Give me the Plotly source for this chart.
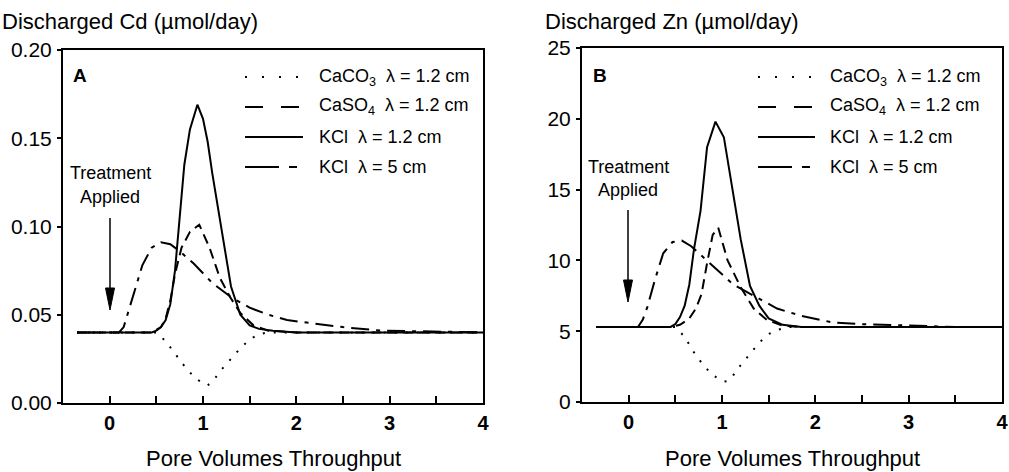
import plotly.graph_objects as go

W, H = 1009, 472
FONT = "Liberation Sans, Arial, sans-serif"


def fx(p):
    return p / W


def fy(p):
    return 1 - p / H


# ---------------- Panel A : Cd ----------------
cd_caco3_x = [-0.35, 0.5, 0.6, 0.7, 0.8, 0.9, 1.0, 1.05, 1.1, 1.2, 1.3, 1.4, 1.5, 1.6, 1.7, 4.0]
cd_caco3_y = [0.040, 0.040, 0.035, 0.028, 0.021, 0.015, 0.011, 0.010, 0.012, 0.019, 0.025, 0.031, 0.036, 0.039, 0.040, 0.040]

cd_caso4_x = [-0.35, 0.45, 0.55, 0.6, 0.65, 0.7, 0.77, 0.86, 0.96, 1.07, 1.18, 1.29, 1.4, 1.54, 1.7, 2.0, 4.0]
cd_caso4_y = [0.040, 0.040, 0.043, 0.048, 0.058, 0.073, 0.088, 0.097, 0.101, 0.088, 0.071, 0.060, 0.051, 0.044, 0.041, 0.040, 0.040]

cd_kcl12_x = [-0.35, 0.45, 0.5, 0.55, 0.6, 0.65, 0.7, 0.75, 0.8, 0.86, 0.94, 1.0, 1.05, 1.1, 1.2, 1.3, 1.4, 1.5, 1.6, 1.75, 2.0, 4.0]
cd_kcl12_y = [0.040, 0.040, 0.041, 0.043, 0.047, 0.056, 0.075, 0.105, 0.135, 0.155, 0.169, 0.161, 0.148, 0.130, 0.098, 0.066, 0.050, 0.044, 0.042, 0.041, 0.040, 0.040]

cd_kcl5_x = [-0.35, 0.1, 0.15, 0.25, 0.35, 0.45, 0.55, 0.65, 0.75, 0.9, 1.1, 1.3, 1.5, 1.7, 1.9, 2.2, 2.5, 2.9, 3.5, 4.0]
cd_kcl5_y = [0.040, 0.040, 0.043, 0.060, 0.078, 0.088, 0.091, 0.090, 0.086, 0.079, 0.068, 0.060, 0.054, 0.050, 0.047, 0.045, 0.043, 0.041, 0.0405, 0.040]

# ---------------- Panel B : Zn ----------------
zn_caco3_x = [-0.35, 0.5, 0.6, 0.7, 0.8, 0.9, 1.0, 1.05, 1.1, 1.2, 1.3, 1.4, 1.5, 1.6, 1.7, 4.0]
zn_caco3_y = [5.3, 5.3, 4.6, 3.5, 2.6, 1.9, 1.5, 1.45, 1.7, 2.6, 3.4, 4.2, 4.8, 5.1, 5.3, 5.3]

zn_caso4_x = [-0.35, 0.45, 0.55, 0.65, 0.72, 0.78, 0.84, 0.9, 0.96, 1.06, 1.2, 1.34, 1.48, 1.65, 1.85, 4.0]
zn_caso4_y = [5.3, 5.3, 5.45, 5.9, 6.6, 7.6, 9.8, 11.8, 12.3, 10.0, 8.1, 6.6, 5.8, 5.4, 5.3, 5.3]

zn_kcl12_x = [-0.35, 0.45, 0.5, 0.55, 0.6, 0.65, 0.7, 0.77, 0.84, 0.93, 1.02, 1.1, 1.2, 1.3, 1.4, 1.5, 1.65, 1.85, 4.0]
zn_kcl12_y = [5.3, 5.3, 5.5, 6.0, 6.8, 8.3, 10.8, 13.5, 18.0, 19.8, 18.7, 15.5, 11.5, 8.2, 6.8, 5.9, 5.45, 5.3, 5.3]

zn_kcl5_x = [-0.35, 0.1, 0.15, 0.2, 0.28, 0.37, 0.47, 0.57, 0.67, 0.77, 0.91, 1.12, 1.34, 1.59, 1.84, 2.2, 2.5, 2.9, 3.5, 4.0]
zn_kcl5_y = [5.3, 5.3, 5.8, 6.7, 8.6, 10.5, 11.3, 11.4, 11.0, 10.4, 9.5, 8.3, 7.5, 6.6, 6.1, 5.6, 5.5, 5.4, 5.3, 5.3]

legend_labels = [
    "CaCO<sub>3</sub>  λ = 1.2 cm",
    "CaSO<sub>4</sub>  λ = 1.2 cm",
    "KCl  λ = 1.2 cm",
    "KCl  λ = 5 cm",
]

DOT = "2px,9px"
DASH = "10px,6px"
SOLID = "solid"
DASHDOT = "18px,7px,4px,7px"
curve_dashes = [DOT, DASH, SOLID, DASHDOT]
legend_dashes = ["2px,15px", "18px,18px", "solid", "34px,10px,8px,20px"]

fig = go.Figure()

panels = [
    ("x", "y", [(cd_caco3_x, cd_caco3_y), (cd_caso4_x, cd_caso4_y), (cd_kcl12_x, cd_kcl12_y), (cd_kcl5_x, cd_kcl5_y)]),
    ("x2", "y2", [(zn_caco3_x, zn_caco3_y), (zn_caso4_x, zn_caso4_y), (zn_kcl12_x, zn_kcl12_y), (zn_kcl5_x, zn_kcl5_y)]),
]
for xa, ya, series in panels:
    for (xs, ys), dash, name in zip(series, curve_dashes, legend_labels):
        fig.add_trace(go.Scatter(x=xs, y=ys, mode="lines", xaxis=xa, yaxis=ya, name=name,
                                 line=dict(color="black", width=2, dash=dash), showlegend=False,
                                 hoverinfo="skip"))

# panel pixel geometry
A = dict(l=63, r=483, t=50, b=403, title_x=0, lx0=245, lx1=303, tx=317, label="A", lab_x=80,
         arrow_x=110, t1=173, t2=197, tail=218, head=310)
B = dict(l=582, r=1002, t=48, b=402, title_x=543, lx0=758, lx1=815, tx=828, label="B", lab_x=600,
         arrow_x=628, t1=167, t2=190, tail=210, head=302)


def xaxis_cfg(p, anchor):
    return dict(domain=[fx(p["l"]), fx(p["r"])], range=[-0.5, 4], anchor=anchor,
                tickmode="linear", tick0=0, dtick=1, ticks="inside", ticklen=7, tickwidth=1.5,
                tickcolor="black",
                minor=dict(tick0=0, dtick=0.5, ticks="inside", ticklen=7, tickwidth=1.5, tickcolor="black"),
                showline=True, linecolor="black", linewidth=2, mirror=True,
                showgrid=False, zeroline=False, ticklabelstandoff=1,
                tickfont=dict(family=FONT, size=20, color="black", weight="bold"))


def yaxis_cfg(p, anchor, rng, dt, fmt):
    return dict(domain=[fy(p["b"]), fy(p["t"])], range=rng, anchor=anchor,
                tickmode="linear", tick0=0, dtick=dt, tickformat=fmt,
                ticks="outside", ticklen=4, tickwidth=1.5, tickcolor="black",
                showline=True, linecolor="black", linewidth=2, mirror=True,
                showgrid=False, zeroline=False, ticklabelstandoff=1,
                tickfont=dict(family=FONT, size=21, color="black"))


annotations = []
shapes = []
ytitles = ["Discharged Cd (µmol/day)", "Discharged Zn (µmol/day)"]
for p, yt in zip([A, B], ytitles):
    annotations.append(dict(x=fx(p["title_x"]), y=fy(22), xref="paper", yref="paper", text=yt,
                            showarrow=False, xanchor="left", yanchor="middle",
                            font=dict(family=FONT, size=22, color="black")))
    annotations.append(dict(x=fx((p["l"] + p["r"]) / 2), y=fy(458), xref="paper", yref="paper",
                            text="Pore Volumes Throughput", showarrow=False, xanchor="center",
                            yanchor="middle", font=dict(family=FONT, size=22, color="black")))
    annotations.append(dict(x=fx(p["lab_x"]), y=fy(75), xref="paper", yref="paper",
                            text="<b>%s</b>" % p["label"], showarrow=False, xanchor="center",
                            yanchor="middle", font=dict(family=FONT, size=19, color="black")))
    for i, (lab, dash) in enumerate(zip(legend_labels, legend_dashes)):
        yrow = 77 + 30 * i
        shapes.append(dict(type="line", xref="paper", yref="paper",
                           x0=fx(p["lx0"]), x1=fx(p["lx1"]), y0=fy(yrow), y1=fy(yrow),
                           line=dict(color="black", width=2, dash=dash)))
        annotations.append(dict(x=fx(p["tx"]), y=fy(yrow), xref="paper", yref="paper", text=lab,
                                showarrow=False, xanchor="left", yanchor="middle",
                                font=dict(family=FONT, size=18, color="black")))
    # Treatment applied label + arrow
    xc = fx(p["arrow_x"])
    annotations.append(dict(x=xc, y=fy(p["t1"]), xref="paper", yref="paper", text="Treatment",
                            showarrow=False, xanchor="center", yanchor="middle",
                            font=dict(family=FONT, size=18, color="black")))
    annotations.append(dict(x=xc, y=fy(p["t2"]), xref="paper", yref="paper", text="Applied",
                            showarrow=False, xanchor="center", yanchor="middle",
                            font=dict(family=FONT, size=18, color="black")))
    shapes.append(dict(type="line", xref="paper", yref="paper", x0=xc, x1=xc,
                       y0=fy(p["tail"]), y1=fy(p["head"] - 18),
                       line=dict(color="black", width=1.5)))
    ax = p["arrow_x"]
    hd = p["head"]
    path = "M %f %f L %f %f L %f %f Z" % (fx(ax - 4.5), fy(hd - 22), fx(ax + 4.5), fy(hd - 22), fx(ax), fy(hd))
    shapes.append(dict(type="path", xref="paper", yref="paper", path=path,
                       fillcolor="black", line=dict(color="black", width=1)))

fig.update_layout(
    width=W, height=H, margin=dict(l=0, r=0, t=0, b=0, autoexpand=False),
    paper_bgcolor="white", plot_bgcolor="white", showlegend=False,
    xaxis=xaxis_cfg(A, "y"), yaxis=yaxis_cfg(A, "x", [0, 0.20], 0.05, ".2f"),
    xaxis2=xaxis_cfg(B, "y2"), yaxis2=yaxis_cfg(B, "x2", [0, 25], 5, "d"),
    annotations=annotations, shapes=shapes,
)

fig.write_html("out.html")
